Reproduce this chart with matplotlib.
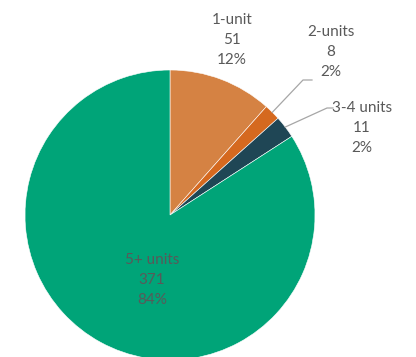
import matplotlib
matplotlib.use('Agg')
import matplotlib.pyplot as plt
import numpy as np

labels = ["1-unit", "2-units", "3-4 units", "5+ units"]
counts = [51, 8, 11, 371]
colors = ["#D58243", "#D5691F", "#1F4655", "#00A478"]
pcts = ["12%", "2%", "2%", "84%"]

W, H = 416, 357
fig = plt.figure(figsize=(W / 100, H / 100), dpi=100)
ax = fig.add_axes([0, 0, 1, 1])

cx, cy, r = 170, H - 215, 145
ax.pie(counts, colors=colors, startangle=90, counterclock=False,
       center=(cx, cy), radius=r, frame=True,
       wedgeprops=dict(linewidth=0.4, edgecolor='white'))
ax.set_xlim(0, W)
ax.set_ylim(0, H)
ax.set_aspect('equal')
ax.axis('off')

txt = dict(ha='center', va='center', color='#595959', fontsize=11,
           family='Lato', linespacing=1.5)

# label block centres (pixels from top-left)
spots = [(232, 40), (331, 52), (362, 128), (152, 280)]
for lab, n, p, (x, y) in zip(labels, counts, pcts, spots):
    ax.text(x, H - y, "%s\n%d\n%s" % (lab, n, p), **txt)

# leader lines for the two thin slices
total = sum(counts)
start = 90 - 360 * np.cumsum([0] + counts[:-1]) / total
mid = start - 180 * np.array(counts) / total
elbows = {1: [(312, 80), (303, 80)], 2: [(333, 108), (327, 108)]}
for i, pts in elbows.items():
    a = np.radians(mid[i])
    px, py = cx + r * np.cos(a), cy + r * np.sin(a)
    xs = [pts[0][0], pts[1][0], px]
    ys = [H - pts[0][1], H - pts[1][1], py]
    ax.plot(xs, ys, color='#A6A6A6', lw=0.9)

plt.savefig('out.png', dpi=100)
